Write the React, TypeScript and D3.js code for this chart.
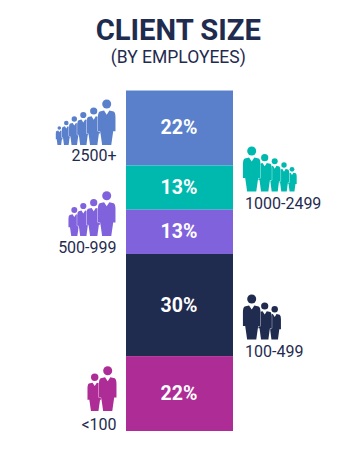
import React from "react";
import * as d3 from "d3";

const categories = ["2500+", "1000-2499", "500-999", "100-499", "<100"];
const shares = [22, 13, 13, 30, 22];
const colors = ["#5A80CC", "#00B9AE", "#8162DD", "#1F2B4F", "#AE2C96"];
const labelsLayout = [
  { x: 116.5, y: 161, anchor: "end" },
  { x: 245, y: 208.5, anchor: "start" },
  { x: 116.5, y: 252.5, anchor: "end" },
  { x: 245, y: 356.5, anchor: "start" },
  { x: 116.5, y: 429.5, anchor: "end" },
];
// [centre x, head centre y, head radius] of each figure, drawn back to front
const crowds: number[][][] = [
  [[59.3, 128, 1.8], [66.3, 123, 2.3], [74.3, 119, 2.7], [83.3, 115, 3.1], [93.7, 111, 3.6], [106.7, 104, 4.5]],
  [[292, 169.3, 2.4], [284, 165, 2.7], [274.7, 161.3, 3], [264.7, 157.7, 3.6], [251.7, 151, 4.5]],
  [[74.3, 210, 3], [83.3, 206, 3.1], [93.7, 202.7, 3.6], [106.7, 195.7, 4.5]],
  [[274.7, 309.3, 3.2], [264.7, 306, 3.6], [251.7, 299, 4.5]],
  [[94.7, 377.3, 3.7], [107.7, 370.7, 4.5]],
];
const feet = [145, 191.5, 236, 339.5, 411];

const W = 355;
const H = 451;
const y = d3.scaleLinear().domain([0, 100]).range([90.5, 431]);
const barX = 126;
const barW = 107;

function bodyPath(cx: number, top: number, bottom: number, r: number) {
  const hw = r * 1.95;
  const h = bottom - top;
  const p = d3.path();
  p.moveTo(cx - hw * 0.3, top);
  p.lineTo(cx, top + h * 0.12);
  p.lineTo(cx + hw * 0.3, top);
  p.lineTo(cx + hw * 0.8, top + h * 0.03);
  p.quadraticCurveTo(cx + hw, top + h * 0.06, cx + hw, top + h * 0.2);
  p.lineTo(cx + hw, top + h * 0.6);
  p.lineTo(cx + hw * 0.74, top + h * 0.6);
  p.lineTo(cx + hw * 0.52, bottom);
  p.lineTo(cx - hw * 0.52, bottom);
  p.lineTo(cx - hw * 0.74, top + h * 0.6);
  p.lineTo(cx - hw, top + h * 0.6);
  p.lineTo(cx - hw, top + h * 0.2);
  p.quadraticCurveTo(cx - hw, top + h * 0.06, cx - hw * 0.8, top + h * 0.03);
  p.closePath();
  return p.toString();
}

export default function App() {
  let cum = 0;
  const stacks = shares.map((v) => {
    const s = { y0: cum, y1: cum + v };
    cum += v;
    return s;
  });
  const font = "Roboto, sans-serif";
  return (
    <svg
      width={W}
      height={H}
      viewBox={`0 0 ${W} ${H}`}
      style={{ position: "absolute", left: 0, top: 0, background: "#fff" }}
      fontFamily={font}
    >
      <text x={178.3} y={40} textAnchor="middle" fontSize={29.2} fontWeight={700} fill="#1F2B4F">
        CLIENT SIZE
      </text>
      <text x={178.3} y={63} textAnchor="middle" fontSize={17.5} fill="#1F2B4F">
        (BY EMPLOYEES)
      </text>
      {stacks.map((s, i) => (
        <g key={categories[i]}>
          <rect x={barX} y={y(s.y0)} width={barW} height={y(s.y1) - y(s.y0)} fill={colors[i]} />
          <text
            x={barX + barW / 2 - 0.5}
            y={(y(s.y0) + y(s.y1)) / 2 + 6.5}
            textAnchor="middle"
            fontSize={19.5}
            fontWeight={700}
            fill="#fff"
          >
            {shares[i]}%
          </text>
        </g>
      ))}
      {crowds.map((crowd, i) => (
        <g key={i} fill={colors[i]}>
          {crowd.map(([cx, cy, r], j) => (
            <g key={j}>
              <path
                d={bodyPath(cx, cy + r * 1.45, feet[i], r)}
                stroke="#fff"
                strokeWidth={0.8}
                paintOrder="stroke"
              />
              <circle cx={cx} cy={cy} r={r} />
            </g>
          ))}
        </g>
      ))}
      {categories.map((c, i) => (
        <text
          key={c}
          x={labelsLayout[i].x}
          y={labelsLayout[i].y}
          textAnchor={labelsLayout[i].anchor}
          fontSize={16}
          fontWeight={400}
          fill="#1F2B4F"
        >
          {c}
        </text>
      ))}
    </svg>
  );
}
